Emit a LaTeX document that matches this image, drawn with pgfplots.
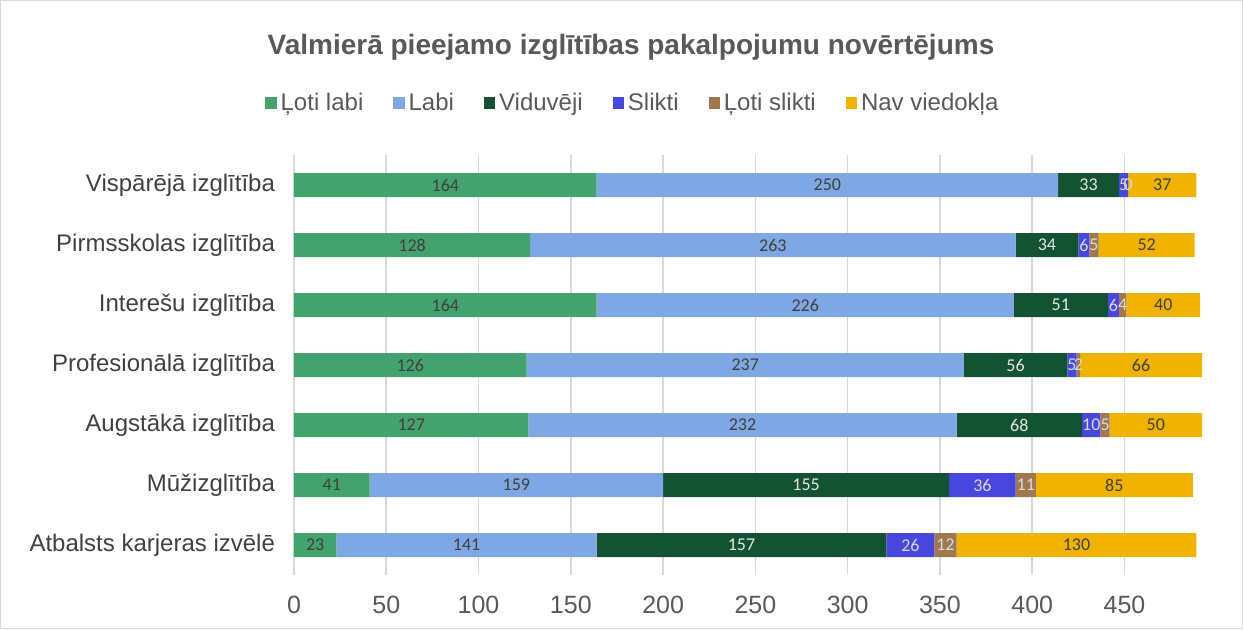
\documentclass[border=0pt]{standalone}
\usepackage{pgfplots}
\pgfplotsset{compat=1.18}
\usepackage{fontspec}
\setmainfont{Liberation Sans}
\newfontfamily\lblfont{Carlito}
\definecolor{cA}{HTML}{44A26E}
\definecolor{cB}{HTML}{7FA7E4}
\definecolor{cC}{HTML}{135333}
\definecolor{cD}{HTML}{4747DD}
\definecolor{cE}{HTML}{A07850}
\definecolor{cF}{HTML}{F0B400}
\definecolor{txt}{HTML}{595959}
\definecolor{grd}{HTML}{D9D9D9}
\pgfplotsset{
  base/.style={
    at={(147pt,27pt)}, anchor=south west,
    scale only axis, width=454pt, height=210pt,
    xmin=0, xmax=492, ymin=-0.5, ymax=6.5, y dir=reverse,
  },
  lbl/.style={only marks, mark=none, point meta=explicit symbolic, nodes near coords,
    every node near coord/.append style={font=\lblfont\fontsize{9}{10}\selectfont, anchor=center, inner sep=0pt, text=#1}},
}
\begin{document}
\begin{tikzpicture}
\path[use as bounding box] (0,0) rectangle (621.5pt,314.5pt);
\draw[grd, line width=0.6pt] (0.3pt,0.3pt) rectangle (621.2pt,314.2pt);
\node[font=\bfseries\fontsize{14}{16}\selectfont, text=txt] at (315.5pt,291pt) {Valmierā pieejamo izglītības pakalpojumu novērtējums};
\begin{axis}[
  base,
  xbar stacked, bar width=12pt,
  ytick={0,...,6},
  yticklabels={Vispārējā izglītība, Pirmsskolas izglītība, Interešu izglītība, Profesionālā izglītība, Augstākā izglītība, Mūžizglītība, Atbalsts karjeras izvēlē},
  xtick={0,50,...,450},
  /pgf/number format/assume math mode=true,
  xticklabel style={font=\fontsize{12.5}{14}\selectfont, text=txt},
  yticklabel style={font=\fontsize{12}{14}\selectfont, text=black!75},
  tick style={draw=none},
  axis line style={draw=none},
  xmajorgrids, grid style={grd, line width=0.8pt},
  xtick pos=bottom, ytick pos=left,
  y tick label style={xshift=-6pt},
  x tick label style={yshift=-7pt},
  legend columns=6,
  legend style={at={(0.3744,1.1238)}, anchor=center, draw=none, fill=none,
    font=\fontsize{12}{14}\selectfont, text=txt,
    /tikz/every even column/.append style={column sep=13pt}},
  legend image code/.code={\fill[#1] (0pt,-2.8pt) rectangle (5.6pt,2.8pt);},
  legend cell align=left,
]
\addplot[fill=cA, draw=none] coordinates {(164,0) (128,1) (164,2) (126,3) (127,4) (41,5) (23,6)};
\addplot[fill=cB, draw=none] coordinates {(250,0) (263,1) (226,2) (237,3) (232,4) (159,5) (141,6)};
\addplot[fill=cC, draw=none] coordinates {(33,0) (34,1) (51,2) (56,3) (68,4) (155,5) (157,6)};
\addplot[fill=cD, draw=none] coordinates {(5,0) (6,1) (6,2) (5,3) (10,4) (36,5) (26,6)};
\addplot[fill=cE, draw=none] coordinates {(0,0) (5,1) (4,2) (2,3) (5,4) (11,5) (12,6)};
\addplot[fill=cF, draw=none] coordinates {(37,0) (52,1) (40,2) (66,3) (50,4) (85,5) (130,6)};
\legend{Ļoti labi, Labi, Viduvēji, Slikti, Ļoti slikti, Nav viedokļa}
\end{axis}
\begin{axis}[base, hide axis, clip=false]
\addplot[lbl=black!75] table[meta=l] {
x y l
82 0 164
64 1 128
82 2 164
63 3 126
63.5 4 127
20.5 5 41
11.5 6 23
};
\addplot[lbl=black!75] table[meta=l] {
x y l
289 0 250
259.5 1 263
277 2 226
244.5 3 237
243 4 232
120.5 5 159
93.5 6 141
};
\addplot[lbl=white!90!black] table[meta=l] {
x y l
430.5 0 33
408 1 34
415.5 2 51
391 3 56
393 4 68
277.5 5 155
242.5 6 157
};
\addplot[lbl=white!85!black] table[meta=l] {
x y l
449.5 0 5
428 1 6
444 2 6
421.5 3 5
432 4 10
373 5 36
334 6 26
};
\addplot[lbl=white!85!black] table[meta=l] {
x y l
452 0 0
433.5 1 5
449 2 4
425 3 2
439.5 4 5
396.5 5 11
353 6 12
};
\addplot[lbl=black!75] table[meta=l] {
x y l
470.5 0 37
462 1 52
471 2 40
459 3 66
467 4 50
444.5 5 85
424 6 130
};
\end{axis}
\end{tikzpicture}
\end{document}
